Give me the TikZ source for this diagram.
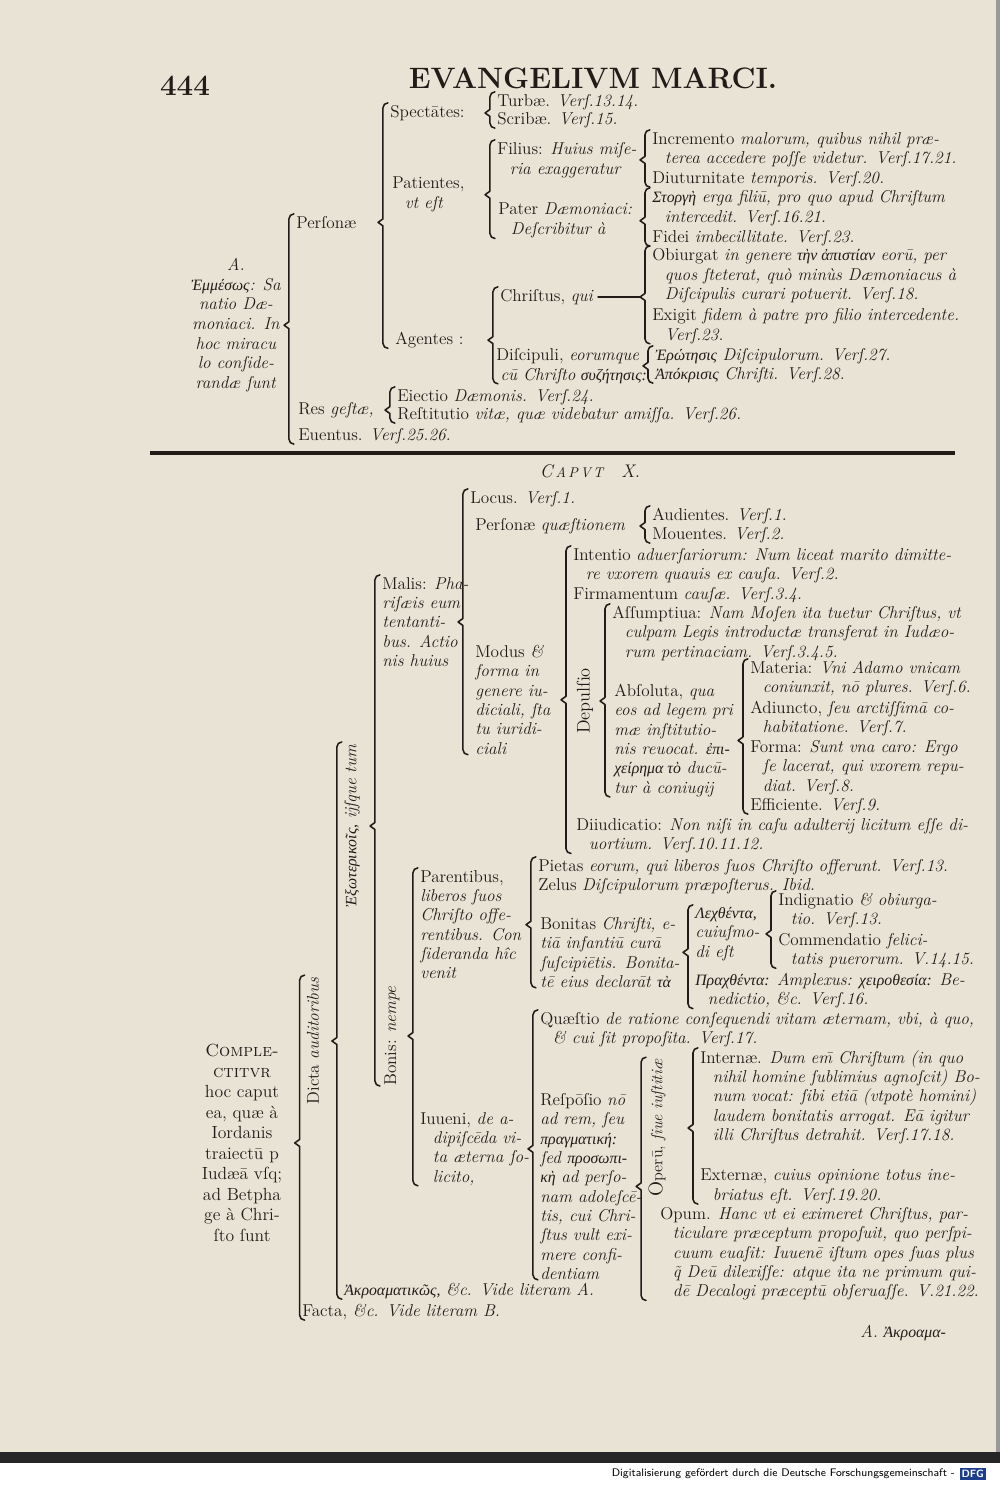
\documentclass[tikz,border=0pt]{standalone}
\usepackage{fontspec}
\newfontfamily\gr[Scale=0.92]{Liberation Serif}
\usetikzlibrary{calc,positioning}
\definecolor{paper}{RGB}{233,227,214}
\definecolor{ink}{RGB}{34,27,24}
\definecolor{dfgblue}{RGB}{28,62,140}
\newcommand\topfont{\fontsize{12.2}{14}\selectfont}
\newcommand\lowfont{\fontsize{12.2}{13.75}\selectfont}
\newcommand\contl{\hspace*{9pt}}
\newcommand\grk[1]{{\gr\itshape #1}}
\newcommand\brk[3]{%
  \draw[brk] let \p1=(#2), \p2=(#3), \p3=(#1.center) in
    (\x1-1.5pt,\y1+1.5pt) to[out=180,in=90] (\x1-5pt,\y1-2pt)
    -- (\x1-5pt,\y3+2.5pt) -- (\x1-8.5pt,\y3) -- (\x1-5pt,\y3-2.5pt)
    -- (\x1-5pt,\y2+3.5pt) to[out=-90,in=180] (\x1-1.5pt,\y2);}

\begin{document}
\begin{tikzpicture}[x=0.025cm,y=-0.025cm,
    entry/.style={anchor=north west,inner sep=0pt,align=left,text=ink,
                  font=\lowfont,yshift=5.7pt},
    vlab/.style={rotate=90,inner sep=0pt,text=ink,font=\lowfont},
    brk/.style={draw=ink,line width=1.1pt,line cap=round,line join=round}]
  \fill[paper] (0,0) rectangle (1000,1485);
  \useasboundingbox (0,0) rectangle (1000,1485);
  \fill[black!85] (0,1452) rectangle (1000,1463);
  \fill[white] (0,1463) rectangle (1000,1485);
  \fill[black!40] (996,0) rectangle (1000,1452);
  \node[anchor=east,inner sep=0pt,font=\sffamily\fontsize{7.8}{8}\selectfont]
    (dfgtext) at (955,1474) {Digitalisierung gefördert durch die Deutsche Forschungsgemeinschaft -};
  \node[fill=dfgblue,text=white,inner sep=1.5pt,font=\sffamily\bfseries\fontsize{7.5}{8}\selectfont,
    right=3pt of dfgtext] (dfg) {DFG};

  \node[text=ink,font=\bfseries\fontsize{21}{21}\selectfont] (pagno) at (185,86) {444};
  \node[text=ink,font=\bfseries\fontsize{21}{21}\selectfont] (title) at (593,78) {EVANGELIVM MARCI.};

  \begin{scope}[entry/.append style={font=\topfont}]
  \node[entry] (spect) at (390,113) {Spectātes:};
  \node[entry] (turb) at (497,102) {Turbæ. \textit{Verſ.13.14.}};
  \node[entry] (scrib) at (497,120) {Scribæ. \textit{Verſ.15.}};
  \node[entry] (fil) at (497,150) {Filius: \textit{Huius miſe-}\\\contl\textit{ria exaggeratur}};
  \node[entry] (incr) at (652,140) {Incremento \textit{malorum, quibus nihil præ-}\\\contl\textit{terea accedere poſſe videtur. Verſ.17.21.}};
  \node[entry] (diut) at (652,179) {Diuturnitate \textit{temporis. Verſ.20.}};
  \node[entry] (pati) at (392,185) {Patientes,\\\contl\textit{vt eſt}};
  \node[entry] (pat) at (498,211) {Pater \textit{Dæmoniaci:}\\\contl\textit{Deſcribitur à}};
  \node[entry] (storg) at (652,198) {\grk{Στοργὴ} \textit{erga filiū, pro quo apud Chriſtum}\\\contl\textit{intercedit. Verſ.16.21.}};
  \node[entry] (fidei) at (652,238) {Fidei \textit{imbecillitate. Verſ.23.}};
  \node[entry] (pers) at (296,224) {Perſonæ};
  \node[entry,anchor=north,align=center] (ermen) at (236,266)
    {\textit{A.}\\\grk{Ἐμμέσως}\textit{: Sa}\\\textit{natio Dæ-}\\\textit{moniaci. In}\\\textit{hoc miracu}\\\textit{lo conſide-}\\\textit{randæ ſunt}};
  \node[entry] (chr) at (500,297) {Chriſtus, \textit{qui}};
  \node[entry] (obi) at (652,256) {Obiurgat \textit{in genere} \grk{τὴν ἀπιστίαν} \textit{eorū, per}\\\contl\textit{quos ſteterat, quò minùs Dæmoniacus à}\\\contl\textit{Diſcipulis curari potuerit. Verſ.18.}};
  \node[entry] (exig) at (652,316) {Exigit \textit{fidem à patre pro filio intercedente.}\\\contl\textit{Verſ.23.}};
  \node[entry] (agent) at (395,340) {Agentes :};
  \node[entry] (disc) at (496,356) {Diſcipuli, \textit{eorumque}\\\hspace*{3pt}\textit{cū Chriſto} \grk{συζήτησις:}};
  \node[entry] (erot) at (655,356) {\grk{Ἐρώτησις} \textit{Diſcipulorum. Verſ.27.}};
  \node[entry] (apok) at (655,375) {\grk{Ἀπόκρισις} \textit{Chriſti. Verſ.28.}};
  \node[entry] (res) at (298,410) {Res \textit{geſtæ,}};
  \node[entry] (eiec) at (397,397) {Eiectio \textit{Dæmonis. Verſ.24.}};
  \node[entry] (rest) at (397,415) {Reſtitutio \textit{vitæ, quæ videbatur amiſſa. Verſ.26.}};
  \node[entry] (euent) at (298,436) {Euentus. \textit{Verſ.25.26.}};
  \end{scope}

  \brk{ermen}{pers.north west}{euent.south west}
  \brk{pers}{spect.north west}{agent.south west}
  \brk{spect}{turb.north west}{scrib.south west}
  \brk{pati}{fil.north west}{pat.south west}
  \brk{fil}{incr.north west}{diut.south west}
  \brk{pat}{storg.north west}{fidei.south west}
  \brk{agent}{chr.north west}{disc.south west}
  \brk{chr}{obi.north west}{exig.south west}
  \draw[brk] ([xshift=3pt]chr.east) -- ([xshift=-8.5pt]chr.east -| obi.west);
  \brk{disc}{erot.north west}{apok.south west}
  \brk{res}{eiec.north west}{rest.south west}

  \draw[ink,line width=3.5pt] (150,453) -- (955,453);

  \node[text=ink,font=\fontsize{13}{13}\selectfont] (caput) at (590,471)
    {\textit{C\,{\fontsize{10}{10}\selectfont A\,P\,V\,T}\quad X.}};
  \node[entry] (locus) at (470,499) {Locus. \textit{Verſ.1.}};
  \node[entry] (perq) at (475,526) {Perſonæ \textit{quæſtionem}};
  \node[entry] (aud) at (652,516) {Audientes. \textit{Verſ.1.}};
  \node[entry] (mou) at (652,535) {Mouentes. \textit{Verſ.2.}};
  \node[entry] (malis) at (382,585) {Malis: \textit{Pha-}\\\textit{riſæis eum}\\\textit{tentanti-}\\\textit{bus. Actio}\\\textit{nis huius}};
  \node[entry] (intent) at (573,556) {Intentio \textit{aduerſariorum: Num liceat marito dimitte-}\\\contl\textit{re vxorem quauis ex cauſa. Verſ.2.}};
  \node[entry] (firm) at (573,595) {Firmamentum \textit{cauſæ. Verſ.3.4.}};
  \node[entry] (assum) at (612,614) {Aſſumptiua: \textit{Nam Moſen ita tuetur Chriſtus, vt}\\\contl\textit{culpam Legis introductæ transferat in Iudæo-}\\\contl\textit{rum pertinaciam. Verſ.3.4.5.}};
  \node[entry] (absol) at (614,692) {Abſoluta, \textit{qua}\\\textit{eos ad legem pri}\\\textit{mæ inſtitutio-}\\\textit{nis reuocat.} \grk{ἐπι-}\\\grk{χείρημα τὸ} \textit{ducū-}\\\textit{tur à coniugij}};
  \node[entry] (mat) at (750,669) {Materia: \textit{Vni Adamo vnicam}\\\contl\textit{coniunxit, nō plures. Verſ.6.}};
  \node[entry] (adi) at (750,709) {Adiuncto, \textit{ſeu arctiſſimā co-}\\\contl\textit{habitatione. Verſ.7.}};
  \node[entry] (forma) at (750,748) {Forma: \textit{Sunt vna caro: Ergo}\\\contl\textit{ſe lacerat, qui vxorem repu-}\\\contl\textit{diat. Verſ.8.}};
  \node[entry] (effic) at (750,806) {Efficiente. \textit{Verſ.9.}};
  \node[entry] (modus) at (475,653) {Modus \textit{\&}\\\textit{forma in}\\\textit{genere iu-}\\\textit{diciali, ſta}\\\textit{tu iuridi-}\\\textit{ciali}};
  \node[entry] (diiud) at (576,826) {Diiudicatio: \textit{Non niſi in caſu adulterij licitum eſſe di-}\\\contl\textit{uortium. Verſ.10.11.12.}};
  \node[vlab,font=\fontsize{13}{13}\selectfont] (depul) at (585,701) {Depulſio};
  \node[vlab] (exot) at (352,826) {\grk{Ἐξωτερικοῖς,} \textit{ijſque tum}};
  \node[vlab] (dicta) at (313,1041) {Dicta \textit{auditoribus}};
  \node[vlab] (bonis) at (392,1036) {Bonis: \textit{nempe}};
  \node[entry] (parent) at (420,878) {Parentibus,\\\textit{liberos ſuos}\\\textit{Chriſto offe-}\\\textit{rentibus. Con}\\\textit{ſideranda hîc}\\\textit{venit}};
  \node[entry] (piet) at (538,867) {Pietas \textit{eorum, qui liberos ſuos Chriſto offerunt. Verſ.13.}};
  \node[entry] (zel) at (538,886) {Zelus \textit{Diſcipulorum præpoſterus. Ibid.}};
  \node[entry] (bonit) at (540,925) {Bonitas \textit{Chriſti, e-}\\\textit{tiā infantiū curā}\\\textit{ſuſcipiētis. Bonita-}\\\textit{tē eius declarāt} \grk{τὰ}};
  \node[entry] (lech) at (695,915) {\grk{Λεχθέντα,}\\\textit{cuiuſmo-}\\\textit{di eſt}};
  \node[entry] (indig) at (778,901) {Indignatio \textit{\& obiurga-}\\\contl\textit{tio. Verſ.13.}};
  \node[entry] (comm) at (778,941) {Commendatio \textit{felici-}\\\contl\textit{tatis puerorum. V.14.15.}};
  \node[entry] (prach) at (695,981) {\grk{Πραχθέντα:} \textit{Amplexus:} \grk{χειροθεσία:} \textit{Be-}\\\contl\textit{nedictio, \&c. Verſ.16.}};
  \node[entry] (quaest) at (540,1020) {Quæſtio \textit{de ratione conſequendi vitam æternam, vbi, à quo,}\\\contl\textit{\& cui ſit propoſita. Verſ.17.}};
  \node[entry] (iuuen) at (420,1120) {Iuueni, \textit{de a-}\\\contl\textit{dipiſcēda vi-}\\\contl\textit{ta æterna ſo-}\\\contl\textit{licito,}};
  \node[entry] (resp) at (540,1101) {Reſpōſio \textit{nō}\\\textit{ad rem, ſeu}\\\grk{πραγματική:}\\\textit{ſed} \grk{προσωπι-}\\\grk{κὴ} \textit{ad perſo-}\\\textit{nam adoleſcē-}\\\textit{tis, cui Chri-}\\\textit{ſtus vult exi-}\\\textit{mere confi-}\\\textit{dentiam}};
  \node[vlab,font=\fontsize{11.5}{12}\selectfont] (oper) at (657,1128) {{\fontsize{14}{14}\selectfont O}perū, \textit{ſiue iuſtitiæ}};
  \node[entry] (intern) at (700,1058) {Internæ. \textit{Dum em̄ Chriſtum (in quo}\\\contl\textit{nihil homine ſublimius agnoſcit) Bo-}\\\contl\textit{num vocat: ſibi etiā (vtpotè homini)}\\\contl\textit{laudem bonitatis arrogat. Eā igitur}\\\contl\textit{illi Chriſtus detrahit. Verſ.17.18.}};
  \node[entry] (extern) at (700,1177) {Externæ, \textit{cuius opinione totus ine-}\\\contl\textit{briatus eſt. Verſ.19.20.}};
  \node[entry] (opum) at (660,1215) {Opum. \textit{Hanc vt ei eximeret Chriſtus, par-}\\\contl\textit{ticulare præceptum propoſuit, quo perſpi-}\\\contl\textit{cuum euaſit: Iuuenē iſtum opes ſuas plus}\\\contl\textit{q̃ Deū dilexiſſe: atque ita ne primum qui-}\\\contl\textit{dē Decalogi præceptū obſeruaſſe. V.21.22.}};
  \node[entry] (akro) at (344,1291) {\grk{Ἀκροαματικῶς,} \textit{\&c. Vide literam A.}};
  \node[entry] (facta) at (302,1312) {Facta, \textit{\&c. Vide literam B.}};
  \node[entry,anchor=north,align=center,font=\fontsize{12.5}{14.6}\selectfont] (compl) at (242,1052)
    {\textsc{Comple-}\\\textsc{ctitvr}\\hoc caput\\ea, quæ à\\Iordanis\\traiectū p\\Iudæā vſq;\\ad Betpha\\ge à Chri-\\ſto ſunt};
  \node[entry] (catch) at (860,1333) {\textit{A.} \grk{Ἀκροαμα-}};

  \brk{compl}{dicta.north east}{facta.south west}
  \brk{dicta}{exot.north east}{akro.south west}
  \brk{exot}{malis.north west}{bonis.north west}
  \brk{malis}{locus.north west}{modus.south west}
  \brk{perq}{aud.north west}{mou.south west}
  \brk{modus}{intent.north west}{diiud.south west}
  \brk{depul}{assum.north west}{absol.south west}
  \brk{absol}{mat.north west}{effic.south west}
  \brk{bonis}{parent.north west}{iuuen.south west}
  \brk{parent}{piet.north west}{bonit.south west}
  \brk{bonit}{lech.north west}{prach.south west}
  \brk{lech}{indig.north west}{comm.south west}
  \brk{iuuen}{quaest.north west}{resp.south west}
  \brk{resp}{oper.north east}{opum.south west}
  \brk{oper}{intern.north west}{extern.south west}
\end{tikzpicture}
\end{document}
